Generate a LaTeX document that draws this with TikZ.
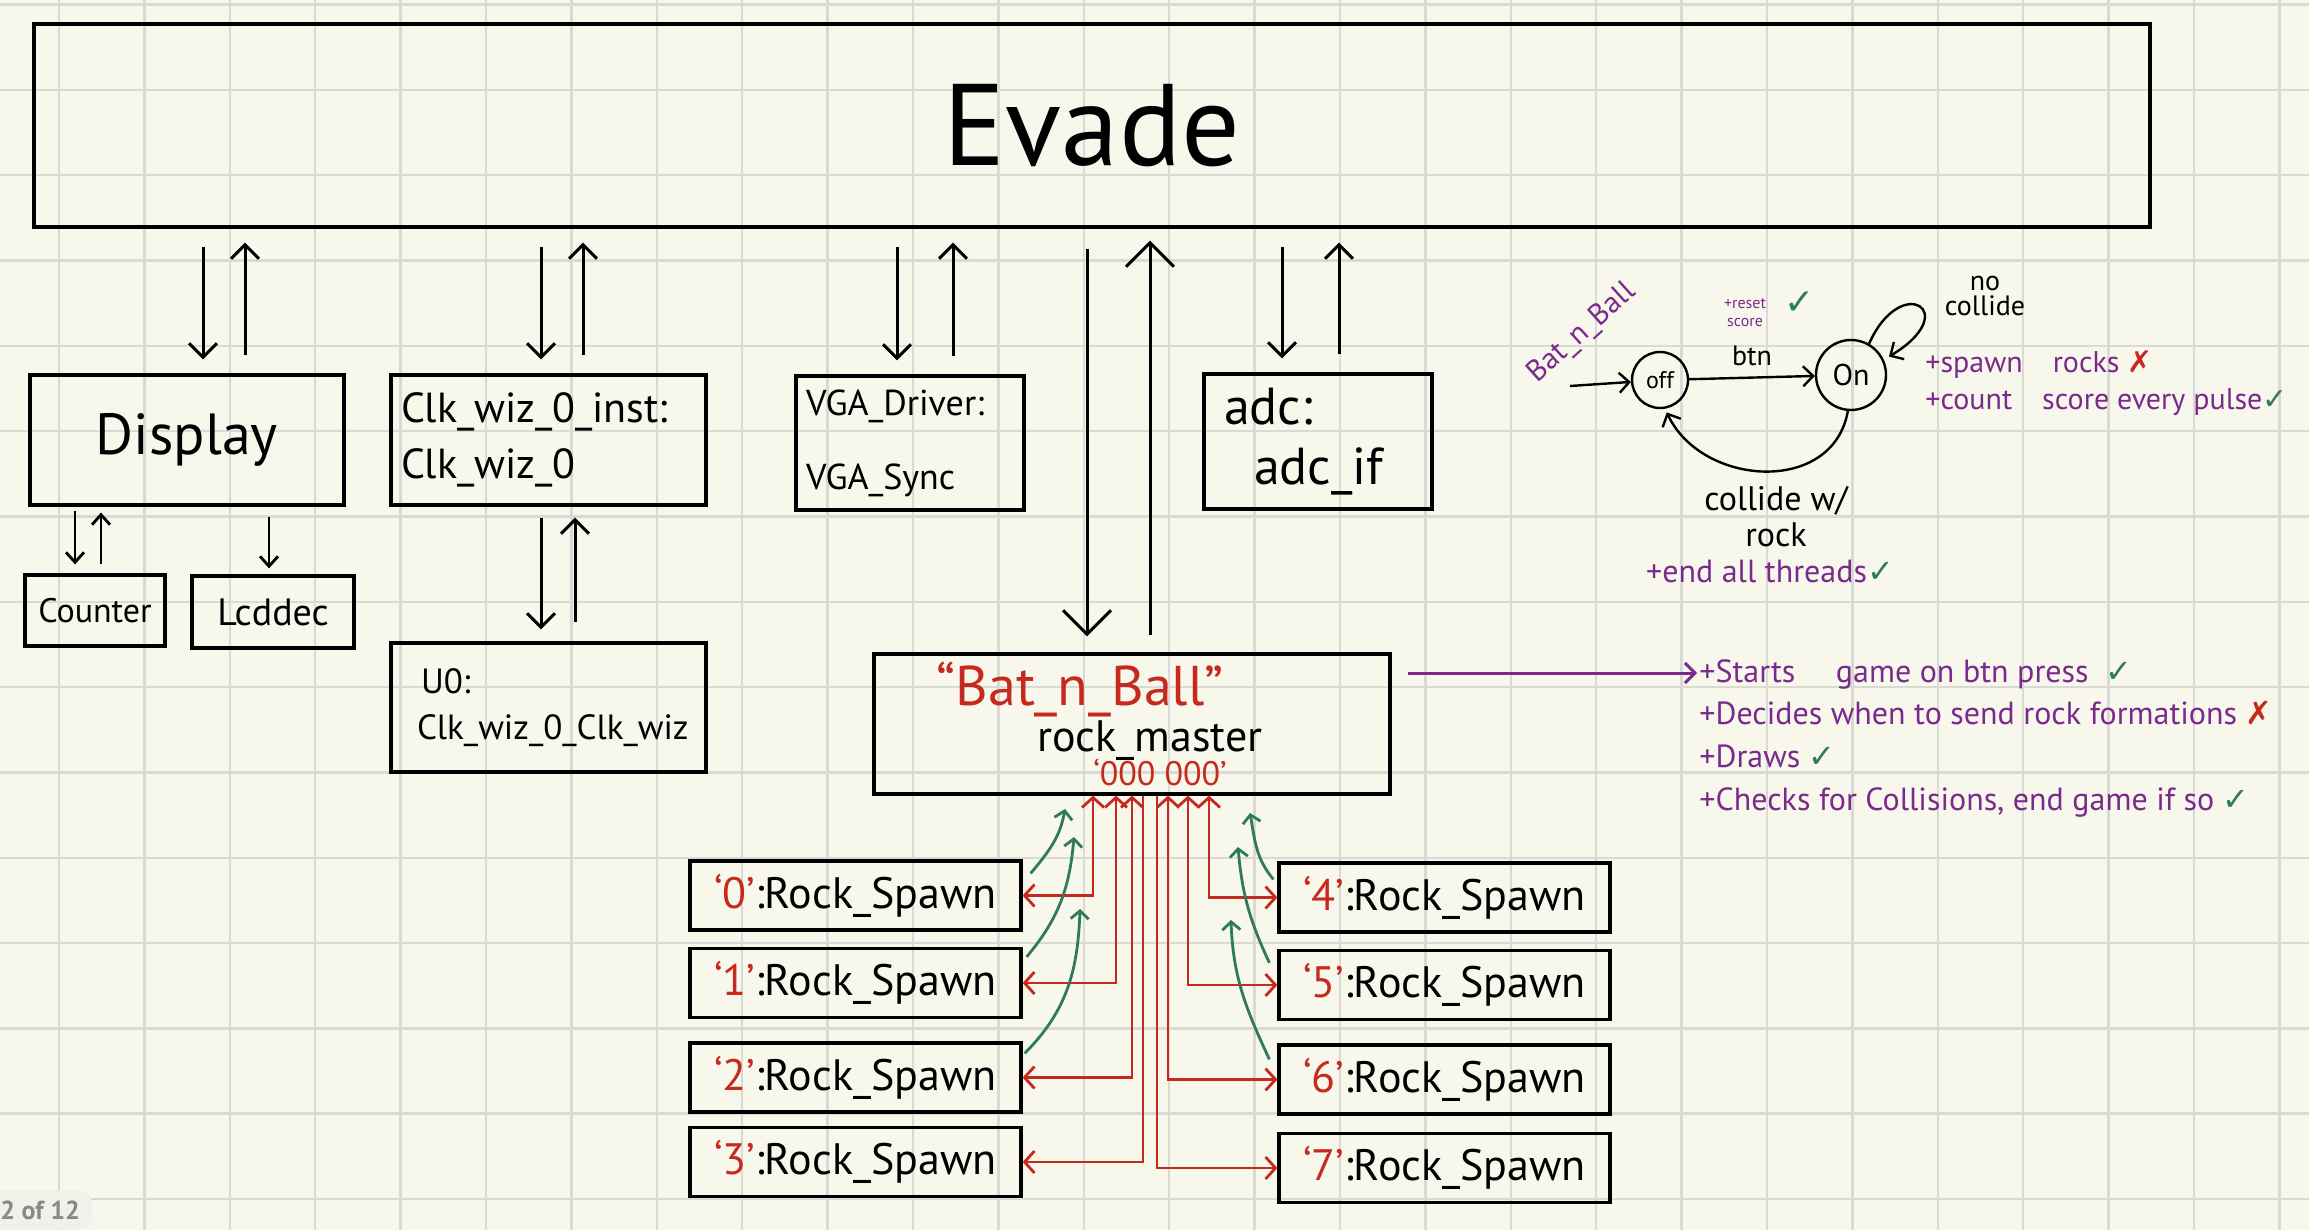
\documentclass[tikz,border=0pt]{standalone}
\usepackage{fontspec}
\setmainfont{PT Sans}
\newfontfamily\symfont{DejaVu Sans}
\usepackage{tikz}
\usetikzlibrary{arrows.meta, positioning, calc}
\definecolor{paper}{HTML}{F7F7EC}
\definecolor{gridgray}{HTML}{D9D9D6}
\definecolor{redink}{HTML}{C62A1F}
\definecolor{greenink}{HTML}{2F7A5C}
\definecolor{purpleink}{HTML}{7A2A8C}
\definecolor{tagfill}{HTML}{F1F1EC}
\definecolor{tagtext}{HTML}{858A84}
\newcommand{\okmark}{{\color{greenink}\symfont ✓}}
\newcommand{\xmark}{{\color{redink}\symfont ✗}}
\newcommand{\fs}[1]{\fontsize{#1}{#1}\selectfont}
\tikzset{
  gridline/.style={draw=gridgray, line width=1.2pt},
  module/.style={
    rectangle, draw=black, line width=1.6pt,
    inner sep=0pt, align=center,
  },
  lmodule/.style={module, align=left, inner xsep=5pt},
  spawner/.style={
    module, minimum width=165.5pt, minimum height=34.5pt,
    font=\fs{22},
  },
  state/.style={circle, draw=black, line width=1.2pt, inner sep=0pt},
  note/.style={text=purpleink, inner sep=1pt, font=\fs{16},
    text height=13pt, text depth=4pt},
  arrow/.style={-{Straight Barb[length=7pt,width=14pt]}, line width=1.5pt},
  bigarrow/.style={-{Straight Barb[length=12pt,width=24pt]}, line width=1.5pt},
  smallarrow/.style={-{Straight Barb[length=5pt,width=9pt]}, line width=1.4pt},
  link/.style={shorten <=9pt, shorten >=7pt},
  redlink/.style={draw=redink, line width=1.4pt,
    >={Straight Barb[length=5pt,width=11pt]}},
  greenlink/.style={draw=greenink, line width=1.4pt,
    -{Straight Barb[length=4pt,width=9pt]}},
  statearrow/.style={-{Straight Barb[length=5pt,width=10pt]}, line width=1.2pt},
  pagetag/.style={rounded corners=6pt, fill=tagfill, text=tagtext,
    font=\bfseries\fs{13}, inner xsep=6pt, inner ysep=5pt},
}

\begin{document}
\begin{tikzpicture}[x=0.5pt, y=-0.5pt]

  % paper
  \useasboundingbox (0,0) rectangle (2309,1230);
  \fill[paper] (0,0) rectangle (2309,1230);
  \foreach \k in {0,...,26}
    \draw[gridline] (59+85.4*\k,0) -- (59+85.4*\k,1230);
  \foreach \k in {0,...,14}
    \draw[gridline] (0,4.7+85.3*\k) -- (2309,4.7+85.3*\k);

  % top level and its instances
  \node[module, minimum width=1058pt, minimum height=101.5pt, font=\fs{58}] (evade) at (1092,125.5) {Evade};
  \node[module, minimum width=157pt, minimum height=65pt, font=\fs{29}] (disp) at (187,440) {Display};
  \node[lmodule, text width=147.5pt, minimum height=65pt, font=\fontsize{21}{28}\selectfont] (clk) at (548.5,440) {Clk\_wiz\_0\_inst:\\Clk\_wiz\_0};
  \node[lmodule, text width=104pt, minimum height=67pt, font=\fontsize{18}{37}\selectfont] (vga) at (910,443) {VGA\_Driver:\\VGA\_Sync};
  \node[lmodule, text width=94pt, inner xsep=10pt, minimum height=67.5pt, font=\fontsize{26}{30}\selectfont] (adc) at (1318,441.5) {adc:\\\hspace*{15pt}adc\_if};
  \node[module, minimum width=70pt, minimum height=35.5pt, font=\fs{17}] (cnt) at (95,610.5) {Counter};
  \node[module, minimum width=81pt, minimum height=36pt, font=\fs{19}] (lcd) at (273,612) {Lcddec};
  \node[lmodule, text width=137.5pt, inner xsep=10pt, minimum height=64.5pt, font=\fontsize{17.5}{23}\selectfont] (u0) at (548.5,707.5) {\hspace*{5pt}U0:\\\hspace*{3pt}Clk\_wiz\_0\_Clk\_wiz};
  \node[module, minimum width=258pt, minimum height=70pt] (bat) at (1132,724)
    {{\fs{28}\color{redink}``Bat\_n\_Ball''}\hspace*{52pt}\\[1pt]
     \hspace*{18pt}{\fs{22}rock\_master}\\[-2pt]
     \hspace*{28pt}{\fs{17}\color{redink}`000 000'}};

  % rock spawners
  \node[spawner] (rs0) at (855.5,895.5) {{\color{redink}`0'}:Rock\_Spawn};
  \node[spawner] (rs1) at (855.5,983) {{\color{redink}`1'}:Rock\_Spawn};
  \node[spawner] (rs2) at (855.5,1077.5) {{\color{redink}`2'}:Rock\_Spawn};
  \node[spawner] (rs3) at (855.5,1162) {{\color{redink}`3'}:Rock\_Spawn};
  \node[spawner] (rs4) at (1444.5,897.5) {{\color{redink}`4'}:Rock\_Spawn};
  \node[spawner] (rs5) at (1444.5,985) {{\color{redink}`5'}:Rock\_Spawn};
  \node[spawner] (rs6) at (1444.5,1079.5) {{\color{redink}`6'}:Rock\_Spawn};
  \node[spawner] (rs7) at (1444.5,1168) {{\color{redink}`7'}:Rock\_Spawn};

  % evade <-> instances
  \draw[arrow, link] (evade.south -| 203,0) -- (disp.north -| 203,0);
  \draw[arrow, link] (disp.north -| 245,0) -- (evade.south -| 245,0);
  \draw[arrow, link] (evade.south -| 541,0) -- (clk.north -| 541,0);
  \draw[arrow, link] (clk.north -| 583,0) -- (evade.south -| 583,0);
  \draw[arrow, link] (evade.south -| 897,0) -- (vga.north -| 897,0);
  \draw[arrow, link] (vga.north -| 953,0) -- (evade.south -| 953,0);
  \draw[arrow, link] (evade.south -| 1282,0) -- (adc.north -| 1282,0);
  \draw[arrow, link] (adc.north -| 1339,0) -- (evade.south -| 1339,0);
  \draw[bigarrow, shorten <=10pt, shorten >=8pt] (evade.south -| 1087,0) -- (bat.north -| 1087,0);
  \draw[bigarrow, shorten <=8.5pt, shorten >=6pt] (bat.north -| 1150,0) -- (evade.south -| 1150,0);

  % sub instances
  \draw[smallarrow, shorten <=2pt, shorten >=4.5pt] (disp.south -| 75,0) -- (cnt.north -| 75,0);
  \draw[smallarrow, shorten <=4.5pt, shorten >=3pt] (cnt.north -| 101,0) -- (disp.south -| 101,0);
  \draw[smallarrow, shorten <=5pt, shorten >=3pt] (disp.south -| 269,0) -- (lcd.north -| 269,0);
  \draw[arrow, shorten <=5.5pt, shorten >=6pt] (clk.south -| 541,0) -- (u0.north -| 541,0);
  \draw[arrow, shorten <=9.5pt, shorten >=5.5pt] (u0.north -| 575,0) -- (clk.south -| 575,0);

  % rock_master -> spawners
  \draw[redlink, <->] (bat.south -| 1093,0) |- (rs0.east);
  \draw[redlink, <->] (bat.south -| 1116,0) |- (rs1.east);
  \draw[redlink, <->] (bat.south -| 1132,0) |- (rs2.east);
  \draw[redlink, ->] (bat.south -| 1143,0) |- (rs3.east);
  \draw[redlink, <->] (bat.south -| 1209,0) |- (rs4.west);
  \draw[redlink, <->] (bat.south -| 1188,0) |- (rs5.west);
  \draw[redlink, <->] (bat.south -| 1168,0) |- (rs6.west);
  \draw[redlink, ->] (bat.south -| 1157,0) |- (rs7.west);

  % spawners report back
  \coordinate (g0) at (1065,809);
  \coordinate (g1) at (1074,837);
  \coordinate (g2) at (1080,909);
  \coordinate (g4) at (1250,813);
  \coordinate (g5) at (1238,847);
  \coordinate (g6) at (1231,920);
  \draw[greenlink] ([shift={(4pt,-7pt)}]rs0.north east) to[out=50, in=-100] (g0);
  \draw[greenlink] ([shift={(2pt,-5pt)}]rs1.north east) to[out=50, in=-95] (g1);
  \draw[greenlink] ([shift={(1pt,-6pt)}]rs2.north east) to[out=45, in=-92] (g2);
  \draw[greenlink] ([shift={(-2pt,-9pt)}]rs4.north west) to[out=130, in=-80] (g4);
  \draw[greenlink] ([shift={(-4pt,-7pt)}]rs5.north west) to[out=115, in=-85] (g5);
  \draw[greenlink] ([shift={(-4pt,-8pt)}]rs6.north west) to[out=115, in=-88] (g6);

  % rock_master duties
  \node[note, anchor=west] (n1) at (1697,673) {+Starts\quad\ game on btn press\ \ \okmark};
  \node[note, below=2pt of n1.south west, anchor=north west] (n2) {+Decides when to send rock formations \xmark};
  \node[note, below=2pt of n2.south west, anchor=north west] (n3) {+Draws \okmark};
  \node[note, below=2pt of n3.south west, anchor=north west] (n4) {+Checks for Collisions, end game if so \okmark};
  \draw[line width=1.5pt, purpleink, -{Straight Barb[length=5pt,width=10pt]}, shorten <=8pt] (bat.east |- n1.west) -- (n1.west);

  % Bat_n_Ball state machine
  \node[state, minimum size=28pt, font=\fs{12}] (off) at (1660,380) {off};
  \node[state, minimum size=35pt, font=\fs{15}] (on) at (1851,375) {On};
  \coordinate (init) at (1570,386);
  \draw[statearrow] (init) -- (off);
  \draw[statearrow] (off) -- node[above=2pt, font=\fs{14}] (btn) {btn} (on);
  \draw[statearrow, shorten >=3pt] (on.60) .. controls +(16pt,36pt) and +(40pt,24pt) .. (on.25);
  \draw[statearrow, shorten >=2pt] (on.265) to[out=-100, in=-65, looseness=1.2] (off.280);
  \node[align=center, font=\fontsize{14}{13}\selectfont] (nocol) at (1985,296) {no\\collide};
  \node[align=center, font=\fontsize{17}{18}\selectfont] (colrock) at (1776,517) {collide w/\\rock};
  \node[note, font=\fs{16}] (endall) at (1770,573) {+end all threads\okmark};
  \node[text=purpleink, rotate=42, font=\fs{15}] (smname) at (1582,333) {Bat\_n\_Ball};
  \node[text=purpleink, align=center, font=\fontsize{8}{9}\selectfont] (rst) at (1745,313) {+reset\\score};
  \node[right=2pt of rst, font=\fs{18}, yshift=5pt] (rstok) {\okmark};
  \node[note, anchor=west, font=\fs{15}] (spawn) at (1923,363) {+spawn\quad rocks \xmark};
  \node[note, anchor=west, font=\fs{15}] (count) at (1923,400) {+count\quad score every pulse\okmark};

  \node[pagetag, anchor=west] (page) at (-12,1210) {2 of 12};

\end{tikzpicture}
\end{document}
